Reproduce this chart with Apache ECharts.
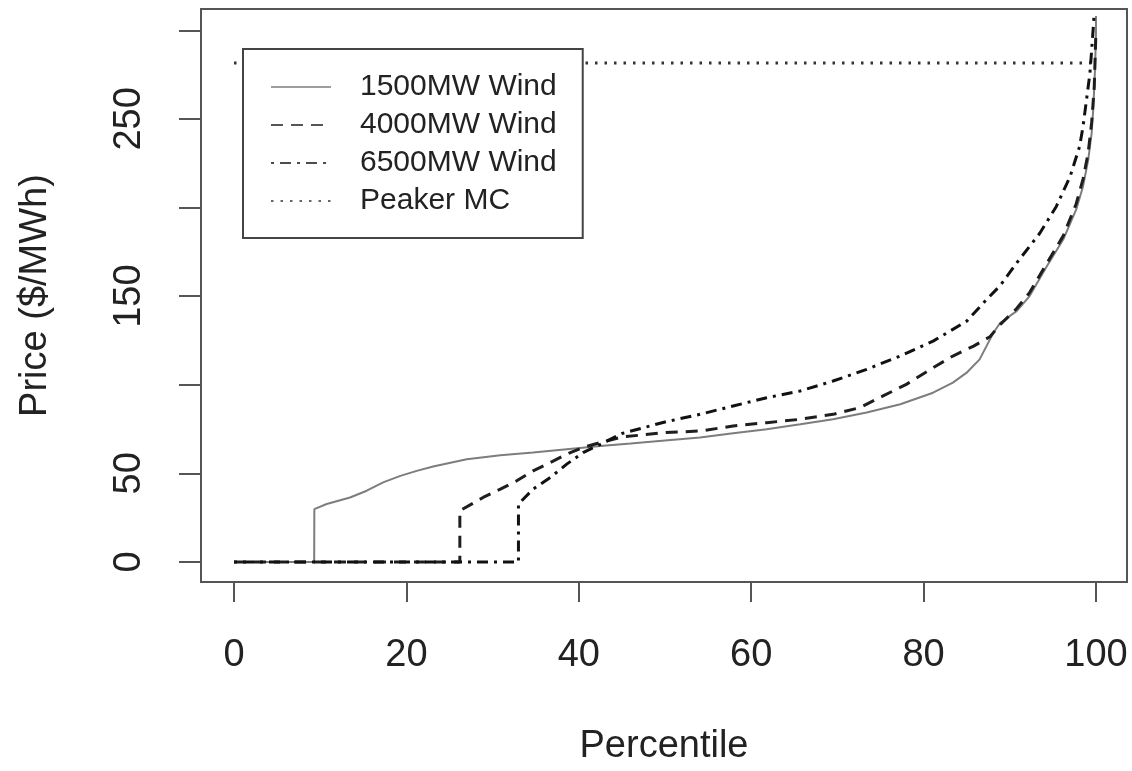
<!DOCTYPE html>
<html>
<head>
<meta charset="utf-8">
<script src="https://cdn.jsdelivr.net/npm/echarts@6/dist/echarts.min.js"></script>
<style>html,body{margin:0;padding:0;background:#fff;}#c{width:1132px;height:771px;}</style>
</head>
<body>
<div id="c"></div>
<script>
// Data (percentile, price $/MWh)
var wind1500 = [[0,0],[9.3,0],[9.32,29.8],[10.75,32.7],[13.46,36.4],[15.4,40.2],[17.3,44.9],[19.3,48.6],[21.2,51.4],[23.1,53.9],[27.0,58],[30.9,60.2],[34.7,61.7],[38.6,63.6],[42.5,65.5],[46,66.8],[50,68.5],[54.06,70.2],[57.9,72.6],[61.8,74.9],[65.7,77.7],[69.5,80.5],[73.4,84.3],[77.3,89],[81.1,95.5],[83.4,101.2],[85,106.8],[86.5,114.3],[87.3,121.8],[88.1,129.3],[88.9,135],[90.8,141.5],[92.3,150],[94.3,166.8],[96.2,181.9],[97.7,198.8],[98.5,211.9],[99.1,226.9],[99.5,241.9],[99.7,256.9],[99.9,279.4],[100,298.3],[100,308]];
var wind4000 = [[0,0],[26.2,0],[26.2,28.9],[28.9,36.4],[30.9,41.1],[32.8,45.8],[34.7,51.4],[36.7,56.1],[38.6,60.8],[40.5,64.6],[42.5,67.4],[45,70.5],[50,73],[54.06,73.9],[57.9,76.7],[61.8,78.6],[65.7,80.5],[69.5,83.3],[72.6,87.1],[75.3,93.7],[78,100.2],[81.1,109.6],[83.4,116.2],[85.8,121.8],[87.7,127.1],[88.9,134],[90.8,143],[92.3,152],[94.3,168.5],[96.2,184],[97.7,202],[98.5,216],[99.1,231],[99.5,248],[99.8,268],[100,300]];
var wind6500 = [[0,0],[33.0,0],[33.0,32.7],[34.7,41.1],[36.7,47.7],[38.6,55.2],[40.5,61.7],[42.5,66.4],[45,72.5],[50,79],[54.06,83.3],[57.9,88],[61.8,92.7],[65.7,96.5],[69.5,102.1],[73.4,108.7],[77.3,116.2],[81.1,124.6],[85,135.9],[87.3,148],[88.9,156],[90.8,168.7],[93.5,185.6],[95.4,200.6],[97,217.5],[98.1,234.4],[98.5,245.7],[98.9,260.7],[99.3,275.7],[99.5,288.9],[99.7,302.4],[99.8,310]];
var peakerMC = [[0,281.5],[100,281.5]];
var xTicks = [0,20,40,60,80,100];
var yTicks = [0,50,100,150,200,250,300];
var yLabels = [0,50,150,250];
var seriesNames = ['1500MW Wind','4000MW Wind','6500MW Wind','Peaker MC'];

var font = "'Liberation Sans', Arial, Helvetica, sans-serif";
var chart = echarts.init(document.getElementById('c'));
function lineSeries(name, data, color, width, type, z) {
  return {name: name, type: 'line', data: data, showSymbol: false, symbol: 'none', symbolSize: 0,
    itemStyle: {color: color}, lineStyle: {color: color, width: width, type: type}, z: z};
}
chart.setOption({
  animation: false,
  backgroundColor: '#fff',
  textStyle: {fontFamily: font},
  grid: {left: 201, top: 9, right: 5, bottom: 188, show: true, borderColor: '#555', borderWidth: 2, backgroundColor: 'transparent'},
  xAxis: {
    type: 'value', min: -3.83, max: 103.6,
    name: 'Percentile', nameLocation: 'middle', nameGap: 146,
    nameTextStyle: {fontSize: 38, color: '#222', fontFamily: font},
    axisLine: {show: false, onZero: false},
    splitLine: {show: false},
    axisTick: {show: true, inside: false, customValues: xTicks, length: 20, lineStyle: {color: '#555', width: 2}},
    axisLabel: {customValues: xTicks, fontSize: 38, color: '#222', margin: 55, fontFamily: font}
  },
  yAxis: {
    type: 'value', min: -11.3, max: 312,
    name: 'Price ($/MWh)', nameLocation: 'middle', nameGap: 146, nameRotate: 90,
    nameTextStyle: {fontSize: 38, color: '#222', fontFamily: font},
    axisLine: {show: false, onZero: false},
    splitLine: {show: false},
    axisTick: {show: true, inside: false, customValues: yTicks, length: 22, lineStyle: {color: '#555', width: 2}},
    axisLabel: {customValues: yLabels, rotate: 90, fontSize: 38, color: '#222', margin: 52, fontFamily: font}
  },
  legend: {
    orient: 'vertical', left: 243, top: 49,
    padding: [23, 26, 22, 27],
    backgroundColor: '#fff', borderColor: '#444', borderWidth: 2,
    itemWidth: 60, itemHeight: 14, itemGap: 8,
    itemStyle: {opacity: 0},
    lineStyle: {opacity: 0.75},
    textStyle: {fontSize: 30, lineHeight: 30, color: '#222', padding: [0,0,0,24], fontFamily: font},
    data: seriesNames
  },
  series: [
    lineSeries(seriesNames[0], wind1500, '#7d7d7d', 2, 'solid', 3),
    lineSeries(seriesNames[1], wind4000, '#1e1e1e', 3, [12, 8], 4),
    lineSeries(seriesNames[2], wind6500, '#111', 3, [3, 6, 11, 6], 5),
    lineSeries(seriesNames[3], peakerMC, '#333', 3, [2.5, 7], 2)
  ]
});
</script>
</body>
</html>
